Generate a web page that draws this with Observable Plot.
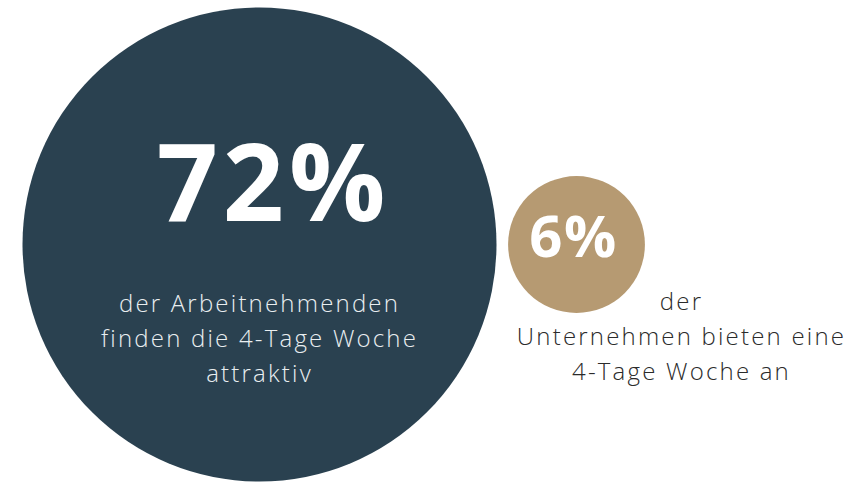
<!DOCTYPE html>
<html>
<head>
<meta charset="utf-8">
<script src="https://cdn.jsdelivr.net/npm/d3@7"></script>
<script src="https://cdn.jsdelivr.net/npm/@observablehq/plot@0.6"></script>
<style>
  html, body { margin: 0; padding: 0; background: #ffffff; }
  #chart svg { display: block; }
</style>
</head>
<body>
<div id="chart"></div>
<script>
// Data
const groups = ["Arbeitnehmende", "Unternehmen"];
const shares = [72, 6];
const shareLabels = ["72%", "6%"];
const descriptions = [
  "der Arbeitnehmenden\nfinden die 4-Tage Woche\nattraktiv",
  "der\nUnternehmen bieten eine\n4-Tage Woche an"
];
const fills = ["#2a4150", "#b69a72"];

const data = groups.map((g, i) => ({group: g, share: shares[i], label: shareLabels[i], desc: descriptions[i]}));

const plot = Plot.plot({
  width: 863,
  height: 482,
  marginTop: 6,
  marginBottom: 0,
  marginLeft: 0,
  marginRight: 0,
  x: {type: "point", domain: groups, range: [259, 576], padding: 0, axis: null},
  r: {type: "sqrt", domain: [0, 72], range: [0, 237]},
  color: {domain: groups, range: fills},
  marks: [
    Plot.dot(data, {x: "group", r: "share", fill: "group", stroke: null}),
    Plot.text([data[0]], {x: "group", text: "label", fontSize: 107, fontWeight: 700, fontFamily: "Open Sans", fill: "white", dx: 14, dy: -58}),
    Plot.text([data[1]], {x: "group", text: "label", fontSize: 58, fontWeight: 700, fontFamily: "Open Sans", fill: "white", dx: -3, dy: -6}),
    Plot.text([data[0]], {x: "group", text: "desc", fontSize: 24, fontWeight: 300, fontFamily: "Open Sans", fill: "#e9eef0", lineAnchor: "top", lineHeight: 1.46, dy: 43}),
    Plot.text([data[1]], {x: "group", text: "desc", fontSize: 24, fontWeight: 300, fontFamily: "Open Sans", fill: "#2b2b2b", lineAnchor: "top", lineHeight: 1.46, dx: 105, dy: 41})
  ]
});
d3.select(plot).selectAll("g[aria-label=text]").each(function() {
  const fs = +this.getAttribute("font-size");
  if (fs === 24) d3.select(this).style("letter-spacing", "2.2px");
  if (fs === 107) d3.select(this).style("letter-spacing", "5px");
  if (fs === 58) d3.select(this).style("letter-spacing", "1.5px");
});
document.getElementById("chart").appendChild(plot);
</script>
</body>
</html>
